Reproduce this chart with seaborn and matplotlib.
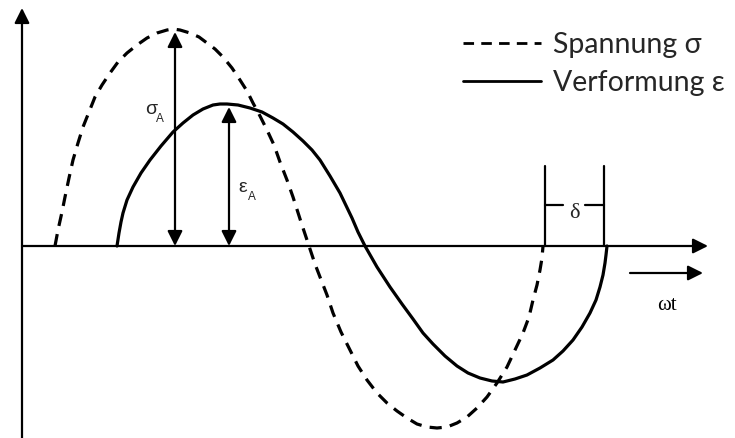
import matplotlib
matplotlib.use("Agg")
import matplotlib.pyplot as plt
import seaborn as sns
import pandas as pd

# Phase angle (horizontal) and amplitude (vertical) of the two oscillations
stress_t = [33, 36, 40, 43, 47, 51, 56, 61, 67, 73, 80, 88, 96, 105, 115, 125, 135,
            145, 151, 158, 168, 177, 185, 193, 201, 210, 218, 225, 231, 238, 245,
            252, 258, 265, 271, 279, 287, 293, 298, 305, 311, 319, 328, 336, 345,
            355, 365, 375, 385, 395, 405, 415, 425, 435, 445, 455, 465, 475, 485,
            493, 501, 507, 511, 515, 518, 520, 521]
stress_v = [0, 16, 34, 49, 68, 86, 103, 119, 134, 149, 161, 173, 184, 193, 201, 208,
            213, 216, 217, 216, 213, 209, 203, 197, 189, 178, 166, 155, 143, 130,
            116, 101, 84, 66, 49, 24, 0, -18, -31, -49, -67, -86, -104, -120, -134,
            -147, -157, -165, -172, -178, -181, -182, -181, -177, -171, -162, -151,
            -137, -121, -104, -87, -71, -54, -39, -24, -12, 0]

strain_t = [95, 97, 99, 101, 105, 111, 119, 128, 139, 151, 161, 171, 181, 191, 198,
            205, 216, 228, 240, 251, 261, 271, 281, 290, 298, 308, 318, 330, 336,
            343, 355, 368, 380, 391, 401, 411, 423, 435, 446, 458, 470, 481, 493,
            505, 518, 531, 541, 551, 560, 568, 574, 578, 581, 583, 584, 585]
strain_v = [0, 13, 24, 33, 46, 59, 73, 86, 100, 114, 123, 131, 137, 141, 142, 142,
            141, 138, 134, 128, 122, 114, 105, 96, 86, 70, 53, 28, 14, 0, -21, -41,
            -58, -73, -87, -98, -110, -120, -127, -132, -135, -136, -133, -129,
            -122, -114, -105, -94, -81, -67, -54, -41, -29, -17, -9, 0]

series_labels = ["Spannung σ", "Verformung ε"]

# Amplitude markers: (position, amplitude)
sigma_amp_t, sigma_amp = 153, 214
eps_amp_t, eps_amp = 207, 139

df = pd.concat([
    pd.DataFrame({"t": stress_t, "v": stress_v, "Größe": series_labels[0]}),
    pd.DataFrame({"t": strain_t, "v": strain_v, "Größe": series_labels[1]}),
])

sns.set_theme(style="white")
plt.rcParams["font.family"] = ["Lato", "Open Sans", "DejaVu Sans"]

fig = plt.figure(figsize=(7.35, 4.38), dpi=100)
ax = fig.add_axes([0, 0, 1, 1])
ax.set_xlim(-22, 713)
ax.set_ylim(-192, 246)
ax.set_axis_off()

sns.lineplot(data=df, x="t", y="v", hue="Größe", style="Größe",
             palette=["black", "black"],
             dashes={series_labels[0]: (3.8, 2.6), series_labels[1]: ""},
             sort=False, estimator=None, linewidth=2.3, ax=ax, legend=True)
for line in ax.get_lines():
    line.set_solid_joinstyle("round")
    line.set_dash_joinstyle("round")

arrow_one = dict(arrowstyle="-|>,head_length=0.9,head_width=0.45", color="black",
                 lw=1.6, shrinkA=0, shrinkB=0, mutation_scale=10)
arrow_two = dict(arrowstyle="<|-|>,head_length=0.9,head_width=0.45", color="black",
                 lw=1.6, shrinkA=0, shrinkB=0, mutation_scale=10)

# coordinate axes
ax.annotate("", xy=(0, 238), xytext=(0, -192), arrowprops=arrow_one)
ax.annotate("", xy=(686, 0), xytext=(0, 0), arrowprops=arrow_one)
# direction of ωt
ax.annotate("", xy=(681, -27), xytext=(608, -27), arrowprops=arrow_one)
ax.text(645, -59, "ωt", family=["Liberation Serif"], fontsize=15,
        ha="center", va="center", color="black")

# amplitude arrows
ax.annotate("", xy=(sigma_amp_t, sigma_amp), xytext=(sigma_amp_t, 0), arrowprops=arrow_two)
ax.annotate("", xy=(eps_amp_t, eps_amp), xytext=(eps_amp_t, 0), arrowprops=arrow_two)
ax.text(129, 136, "σ", family=["Liberation Sans"], fontsize=14, ha="center", va="center")
ax.text(138, 127, "A", family=["Liberation Sans"], fontsize=8.5, ha="center", va="center")
ax.text(221, 58, "ε", family=["Liberation Sans"], fontsize=14, ha="center", va="center")
ax.text(230, 49, "A", family=["Liberation Sans"], fontsize=8.5, ha="center", va="center")

# phase shift bracket δ
t0, t1 = stress_t[-1] + 2, strain_t[-1] - 3
ax.plot([t0, t0], [0, 80], color="black", lw=1.6)
ax.plot([t1, t1], [0, 80], color="black", lw=1.6)
ax.plot([t0, t0 + 18], [41, 41], color="black", lw=1.6)
ax.plot([t1 - 19, t1], [41, 41], color="black", lw=1.6)
ax.text((t0 + t1) / 2, 32, "δ", family=["Liberation Serif"], fontsize=16,
        ha="center", va="center")

leg = ax.legend(loc="upper left", bbox_to_anchor=(463 / 735, 1 - 32 / 438),
                frameon=False, fontsize=20.5, handlelength=2.75, handletextpad=0.42,
                labelspacing=0.42, borderaxespad=0, borderpad=0)
for line in leg.get_lines():
    line.set_linewidth(2.0)

fig.savefig("out.png", dpi=100, facecolor="white")
